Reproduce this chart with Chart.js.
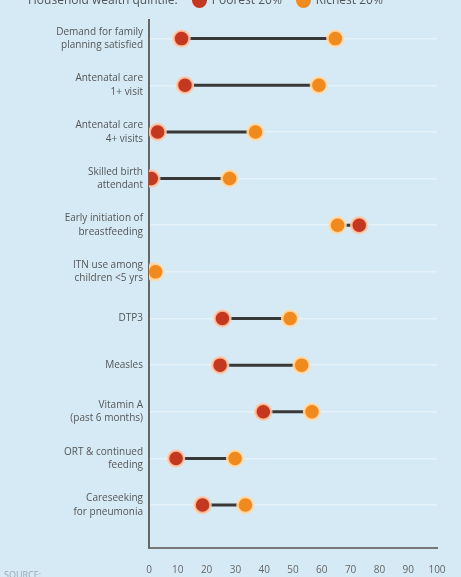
<!DOCTYPE html>
<html>
<head>
<meta charset="utf-8">
<script src="https://cdn.jsdelivr.net/npm/chart.js@4"></script>
<style>
  html, body { margin: 0; padding: 0; background: #d6eaf5; }
  #wrap { position: relative; width: 461px; height: 577px; overflow: hidden; background: #d6eaf5; }
  #legend {
    position: absolute; top: -9px; left: 28px; white-space: nowrap;
    font-family: "Open Sans", sans-serif; font-size: 12px; color: #555;
  }
  #legend .dot { display: inline-block; width: 15px; height: 15px; border-radius: 50%; vertical-align: middle; margin: 0 5px 0 14px; }
  #source { position: absolute; left: 4px; top: 568px; font-family: "Open Sans", sans-serif; font-size: 9px; color: #9aa9b2; }
  canvas { position: absolute; left: 0; top: 0; }
</style>
</head>
<body>
<div id="wrap">
  <canvas id="dumbbell" width="461" height="577"></canvas>
  <div id="legend">Household wealth quintile:<span class="dot" style="background:#c4381f"></span>Poorest 20%<span class="dot" style="background:#f08a1e"></span>Richest 20%</div>
  <div id="source">SOURCE:</div>
</div>
<script>
/* ---------- data ---------- */
const indicators = [
  ['Demand for family', 'planning satisfied'],
  ['Antenatal care', '1+ visit'],
  ['Antenatal care', '4+ visits'],
  ['Skilled birth', 'attendant'],
  ['Early initiation of', 'breastfeeding'],
  ['ITN use among', 'children <5 yrs'],
  ['DTP3'],
  ['Measles'],
  ['Vitamin A', '(past 6 months)'],
  ['ORT & continued', 'feeding'],
  ['Careseeking', 'for pneumonia']
];
const poorest = [11.3, 12.5, 3, 0.8, 73, 1.5, 25.5, 24.7, 39.7, 9.4, 18.6];
const richest = [64.7, 59, 37, 28, 65.5, 2.3, 49, 53, 56.6, 29.9, 33.5];
const xTicks = [0, 10, 20, 30, 40, 50, 60, 70, 80, 90, 100];

const POOR = '#c4381f';
const RICH = '#f08a1e';

/* ---------- datasets ---------- */
// one short line per indicator, joining the two quintiles
const connectors = indicators.map((lab, i) => ({
  type: 'line',
  label: 'conn' + i,
  data: [{ x: poorest[i], y: i }, { x: richest[i], y: i }],
  borderColor: '#383838',
  borderWidth: 3,
  pointRadius: 0,
  showLine: true,
  order: 2
}));

const datasets = [
  {
    label: 'Richest 20%',
    data: richest.map((v, i) => ({ x: v, y: i })),
    backgroundColor: RICH,
    borderColor: 'rgba(255,222,175,0.85)',
    borderWidth: 2.5,
    pointRadius: 8,
    order: 0
  },
  {
    label: 'Poorest 20%',
    data: poorest.map((v, i) => ({ x: v, y: i })),
    backgroundColor: POOR,
    borderColor: 'rgba(255,205,170,0.85)',
    borderWidth: 2.5,
    pointRadius: 8,
    order: 1
  },
  ...connectors
];

new Chart(document.getElementById('dumbbell'), {
  type: 'scatter',
  data: { datasets },
  options: {
    responsive: false,
    animation: false,
    layout: { padding: { top: 14, right: 24, left: 0, bottom: 0 } },
    plugins: {
      legend: { display: false },
      tooltip: { enabled: false }
    },
    scales: {
      x: {
        type: 'linear',
        min: 0,
        max: 100,
        afterBuildTicks: axis => { axis.ticks = xTicks.map(v => ({ value: v })); },
        afterFit: scale => { scale.height = 29; },
        ticks: {
          font: { family: 'Open Sans', size: 10 },
          color: '#666',
          padding: 8
        },
        grid: { display: false },
        border: { color: '#777', width: 2 }
      },
      y: {
        type: 'linear',
        reverse: true,
        min: -0.41,
        max: 10.92,
        afterBuildTicks: axis => { axis.ticks = indicators.map((_, i) => ({ value: i })); },
        afterFit: scale => { scale.width = 149; },
        ticks: {
          callback: v => indicators[v],
          font: { family: 'Open Sans', size: 10, lineHeight: 1.35 },
          color: '#555',
          padding: 6
        },
        grid: {
          color: 'rgba(255,255,255,0.4)',
          lineWidth: 1.5,
          drawTicks: false
        },
        border: { color: '#666', width: 2 }
      }
    }
  }
});
</script>
</body>
</html>
